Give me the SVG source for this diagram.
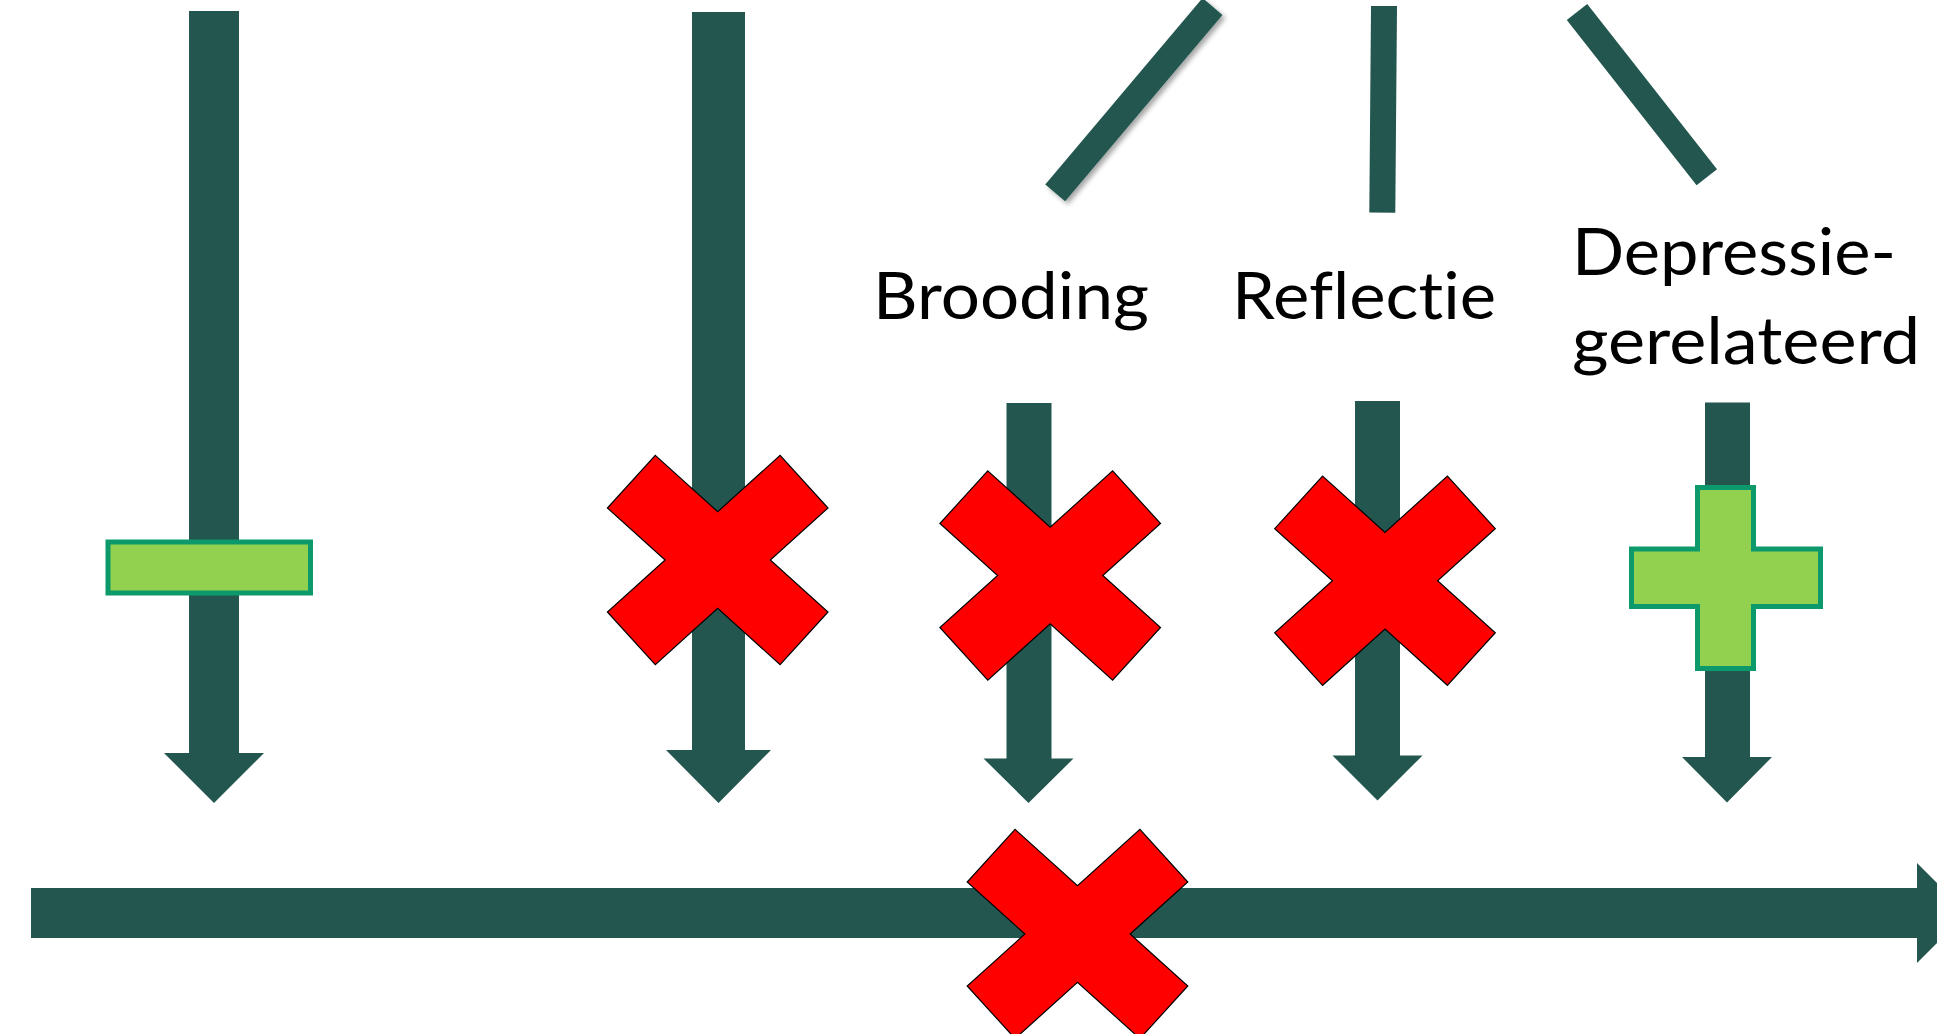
<svg xmlns="http://www.w3.org/2000/svg" width="1937" height="1034" viewBox="0 0 1937 1034">
  <style>
    .arrow { fill: #22564F; }
    .bar { stroke: #22564F; stroke-width: 26; stroke-linecap: butt; fill: none; }
    .cross { fill: #FF0000; stroke: #000000; stroke-width: 1.2; stroke-linejoin: miter; }
    .good { fill: #92D050; stroke: #0C996B; stroke-width: 5; }
    .label { font-family: "Lato", "Liberation Sans", sans-serif; font-size: 65px; fill: #000000;
             font-variant-ligatures: none; font-feature-settings: "liga" 0, "clig" 0, "dlig" 0; }
  </style>
  <defs>
    <!-- red "X" mark, centred on the origin -->
    <polygon id="xmark" points="-62.4,-104.6 0,-48.3 62.4,-104.6 110.3,-52 52.6,0 110.3,52 62.4,104.6 0,48.3 -62.4,104.6 -110.3,52 -52.6,0 -110.3,-52"/>
    <filter id="softShadow" x="-20%" y="-20%" width="140%" height="140%">
      <feDropShadow dx="3" dy="3" stdDeviation="2.5" flood-color="#000000" flood-opacity="0.35"/>
    </filter>
  </defs>

  <rect width="1937" height="1034" fill="#FFFFFF"/>

  <!-- connectors -->
  <g id="connectors">
    <!-- top branches -->
    <line id="branch-brooding" class="bar" x1="1055.2" y1="192.8" x2="1212.5" y2="6.5" filter="url(#softShadow)"/>
    <line id="branch-reflectie" class="bar" x1="1384" y1="6" x2="1382.3" y2="212.7"/>
    <line id="branch-depressie" class="bar" x1="1577" y1="12" x2="1706.8" y2="177.2"/>

    <!-- long downward arrows -->
    <polygon id="arrow-1" class="arrow" points="189,11 239,11 239,753 264,753 214,803 164,753 189,753"/>
    <polygon id="arrow-2" class="arrow" points="692,12 745,12 745,750 771,750 718.5,803 666,750 692,750"/>

    <!-- short downward arrows under the labels -->
    <polygon id="arrow-3" class="arrow" points="1006.5,403 1051.5,403 1051.5,758.5 1073.5,758.5 1028.5,803 983.5,758.5 1006.5,758.5"/>
    <polygon id="arrow-4" class="arrow" points="1355,401 1400,401 1400,755.5 1422.5,755.5 1377.5,800.5 1332.5,755.5 1355,755.5"/>
    <polygon id="arrow-5" class="arrow" points="1705,402.5 1750,402.5 1750,757 1772,757 1727,802.5 1682,757 1705,757"/>

    <!-- horizontal axis arrow -->
    <polygon id="axis" class="arrow" points="31,888 1917,888 1917,863 1967,913 1917,963 1917,938 31,938"/>
  </g>

  <!-- labels -->
  <g id="label-brooding">
    <text class="label" x="873" y="318.5" textLength="276" lengthAdjust="spacingAndGlyphs">Brooding</text>
  </g>
  <g id="label-reflectie">
    <text class="label" x="1232" y="318.5" textLength="264" lengthAdjust="spacingAndGlyphs">Reflectie</text>
  </g>
  <g id="label-depressie">
    <text class="label" x="1572" y="275" textLength="324" lengthAdjust="spacingAndGlyphs">Depressie-</text>
    <text class="label" x="1572" y="364" textLength="348" lengthAdjust="spacingAndGlyphs">gerelateerd</text>
  </g>

  <!-- markers on the arrows -->
  <g id="minus-1">
    <rect class="good" x="108" y="542" width="202.5" height="51"/>
  </g>
  <g id="cross-1">
    <use href="#xmark" class="cross" transform="translate(717.7,560)"/>
  </g>
  <g id="cross-brooding">
    <use href="#xmark" class="cross" transform="translate(1050.2,575.5)"/>
  </g>
  <g id="cross-reflectie">
    <use href="#xmark" class="cross" transform="translate(1385,580.7)"/>
  </g>
  <g id="plus-depressie">
    <polygon class="good" points="1697.5,487.5 1753.5,487.5 1753.5,549 1820.5,549 1820.5,606.5 1753.5,606.5 1753.5,668.5 1697.5,668.5 1697.5,606.5 1631.5,606.5 1631.5,549 1697.5,549"/>
  </g>
  <g id="cross-axis">
    <use href="#xmark" class="cross" transform="translate(1077.5,934)"/>
  </g>
</svg>
